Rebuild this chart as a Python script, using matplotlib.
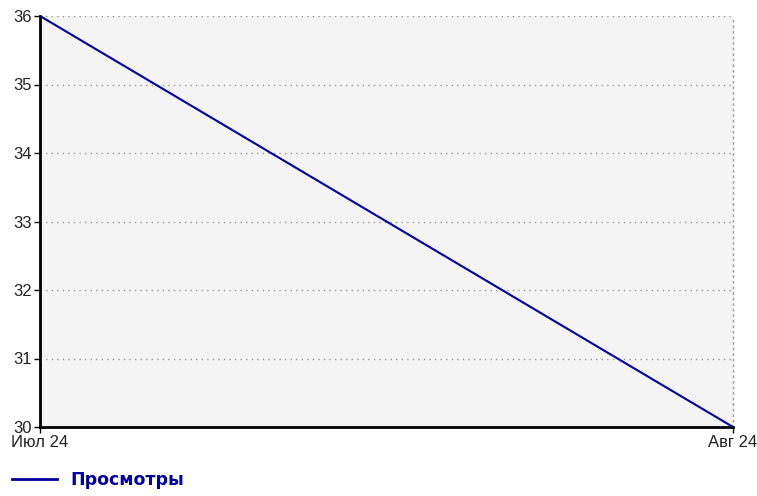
import matplotlib
matplotlib.use("Agg")
import matplotlib.pyplot as plt
from matplotlib.lines import Line2D

months = ["Июл 24", "Авг 24"]
views = [36, 30]
yticks = [30, 31, 32, 33, 34, 35, 36]
seriesName = "Просмотры"

lineColor = "#0000a0"
plt.rcParams['font.family'] = ['Liberation Sans', 'DejaVu Sans']

fig = plt.figure(figsize=(7.57, 4.96), dpi=100)
ax = fig.add_axes([40 / 757, 1 - 427 / 496, 693 / 757, 411 / 496])
ax.set_facecolor("#f4f4f4")

x = list(range(len(months)))
ax.plot(x, views, color=lineColor, linewidth=1.5, zorder=3)

ax.set_xlim(0, len(months) - 1)
ax.set_ylim(min(yticks), max(yticks))
ax.set_xticks(x)
ax.set_xticklabels(months)
ax.set_yticks(yticks)

ax.grid(axis="y", color="#999999", linestyle=(0, (1, 3)), linewidth=1)
ax.set_axisbelow(True)

for side in ["left", "bottom"]:
    ax.spines[side].set_linewidth(2)
    ax.spines[side].set_color("black")
ax.spines["top"].set_visible(False)
ax.spines["right"].set_color("#999999")
ax.spines["right"].set_linestyle((0, (1, 3)))
ax.spines["right"].set_linewidth(1)

ax.tick_params(axis="both", labelsize=12, colors="black", length=4, width=1,
               labelcolor="#222222", pad=2)

handle = Line2D([], [], color=lineColor, linewidth=2)
leg = fig.legend([handle], [seriesName], loc="center left",
                 bbox_to_anchor=(12 / 757, 1 - 480 / 496), frameon=False,
                 borderpad=0, borderaxespad=0, handlelength=2.6,
                 handletextpad=0.75,
                 prop={"family": "DejaVu Sans", "weight": "bold", "size": 12.5})
for t in leg.get_texts():
    t.set_color(lineColor)

fig.savefig("out.png", dpi=100)
